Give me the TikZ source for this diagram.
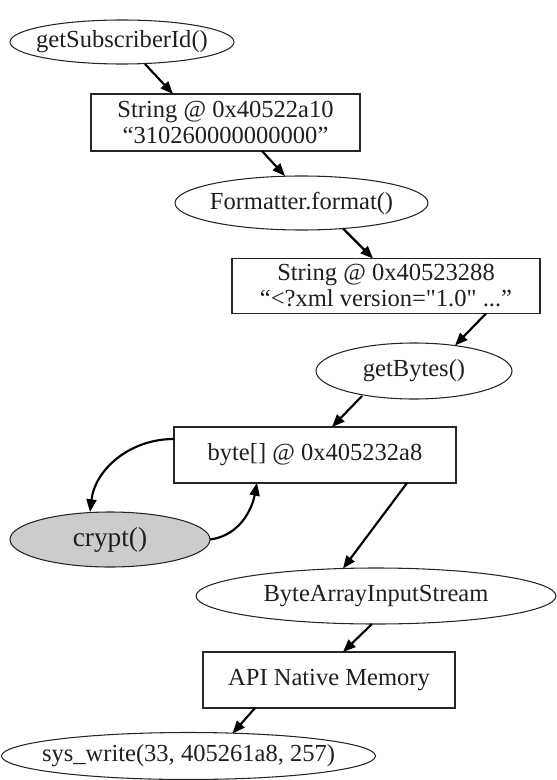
\documentclass[tikz,border=0pt]{standalone}
\usepackage{fontspec}
\setmainfont{Liberation Serif}[Ligatures=TeXOff]
\usetikzlibrary{shapes.geometric,arrows.meta,calc}
\newcommand{\ovtext}[1]{\makebox[0pt]{#1}}
\begin{document}
\begin{tikzpicture}[x=0.75pt,y=-0.75pt,
  every node/.style={font=\fontsize{18.4}{19.5}\selectfont, text=black!88, inner sep=0pt, outer sep=0pt},
  oval/.style={ellipse, draw=black!85, line width=0.8pt},
  rbox/.style={rectangle, draw=black!85, line width=0.8pt, align=center},
  conn/.style={-{Triangle[length=9.5pt,width=7.5pt]}, line width=1.6pt, black}
]
\useasboundingbox (0,0) rectangle (556,780);
% nodes
\node[oval, minimum width=224*0.75pt, minimum height=44*0.75pt] (n1) at (122,42) {\ovtext{getSubscriberId()}};
\node[rbox, minimum width=269*0.75pt, minimum height=57*0.75pt] (n2) at (225.5,122.5) {String @ 0x40522a10\\“310260000000000”};
\node[oval, minimum width=253*0.75pt, minimum height=54*0.75pt] (n3) at (301.5,203) {\ovtext{Formatter.format()}};
\node[rbox, minimum width=308*0.75pt, minimum height=55*0.75pt] (n4) at (386,286) {String @ 0x40523288\\“<?xml version="1.0" ...”};
\node[oval, minimum width=196*0.75pt, minimum height=56*0.75pt] (n5) at (414,371) {\ovtext{getBytes()}};
\node[rbox, minimum width=282*0.75pt, minimum height=56*0.75pt] (n6) at (315,455) {byte[] @ 0x405232a8};
\node[oval, fill=gray!40, minimum width=200*0.75pt, minimum height=55*0.75pt, font=\fontsize{20.5}{22}\selectfont] (n7) at (110,539.5) {\ovtext{crypt()}};
\node[oval, minimum width=360*0.75pt, minimum height=56*0.75pt] (n8) at (376,596) {\ovtext{ByteArrayInputStream}};
\node[rbox, minimum width=252*0.75pt, minimum height=56*0.75pt] (n9) at (329,680) {API Native Memory};
\node[oval, minimum width=374*0.75pt, minimum height=47*0.75pt] (n10) at (188.5,756) {\ovtext{sys\_write(33, 405261a8, 257)}};
% connectors
\draw[conn] ($(n1.south)+(23,0)$) -- ($(n2.north)+(-52.5,0)$);
\draw[conn] ($(n2.south)+(36.5,0)$) -- ($(n3.north)+(-16.5,0)$);
\draw[conn] ($(n3.south)+(41.5,-1.5)$) -- ($(n4.north)+(-13,0)$);
\draw[conn] ($(n4.south)+(100,0)$) -- ($(n5.north)+(41,2.5)$);
\draw[conn] ($(n5.south)+(-52,-3)$) -- ($(n6.north)+(17,0)$);
\draw[conn] ($(n6.west)+(0,-16)$) .. controls +(-45,0) and +(5,-42) .. ($(n7.north)+(-20,0)$);
\draw[conn] (n7.east) .. controls +(30,-4) and +(-5,26) .. ($(n6.south)+(-58,0)$);
\draw[conn] ($(n6.south)+(92,0)$) -- ($(n8.north)+(-33,0.5)$);
\draw[conn] ($(n8.south)+(-4,0)$) -- ($(n9.north)+(14,0)$);
\draw[conn] ($(n9.south)+(-74,0)$) -- ($(n10.north)+(44,1)$);
\end{tikzpicture}
\end{document}
